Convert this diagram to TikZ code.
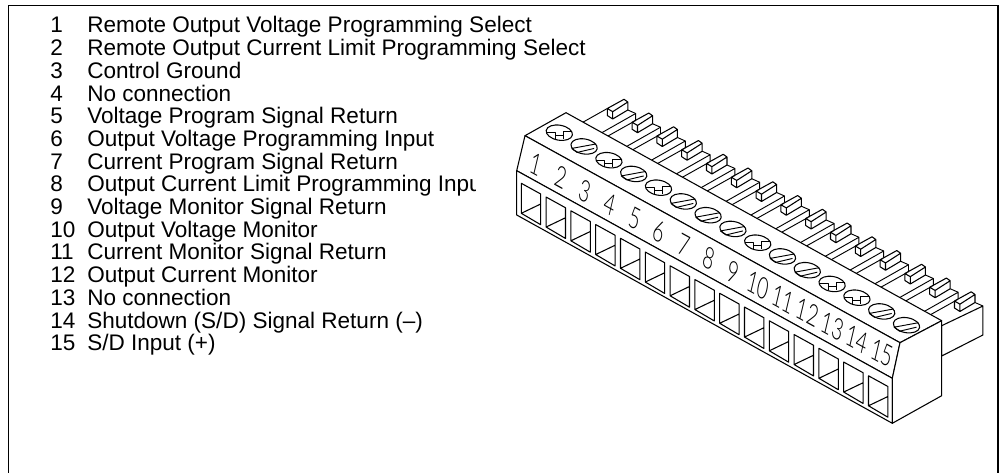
\documentclass[tikz,border=0pt]{standalone}
\usepackage{fontspec}
\setmainfont{Liberation Sans}
\newfontfamily\digitfont{Lato Light}
\usepackage{tikz}
\tikzset{
  frameline/.style={line width=1pt},
  partline/.style={line width=.8pt,line join=round,fill=white},
  thinline/.style={line width=.7pt,line join=round},
  pinno/.style={anchor=base west,inner sep=0pt,font=\fontsize{16.9pt}{20pt}\selectfont},
  pinlabel/.style={pinno},
  facedigit/.style={inner sep=0pt,transform shape,font=\digitfont\fontsize{22pt}{22pt}\selectfont}
}
\begin{document}
\begin{tikzpicture}[x=.75pt,y=-.75pt]
         \useasboundingbox (0,0) rectangle (999,473);
         \draw[frameline](8.5,473)--(8.5,5.5)--(998,5.5)--(998,473);
         % pin list
         \path
                (50,33) node [pinno] (no1) {1}           (87,33) node [pinlabel] (pin1) {Remote Output Voltage Programming Select}
                (50,55.7) node [pinno] (no2) {2}         (87,55.7) node [pinlabel] (pin2) {Remote Output Current Limit Programming Select}
                (50,78.4) node [pinno] (no3) {3}         (87,78.4) node [pinlabel] (pin3) {Control Ground}
                (50,101.1) node [pinno] (no4) {4}        (87,101.1) node [pinlabel] (pin4) {No connection}
                (50,123.8) node [pinno] (no5) {5}        (87,123.8) node [pinlabel] (pin5) {Voltage Program Signal Return}
                (50,146.5) node [pinno] (no6) {6}        (87,146.5) node [pinlabel] (pin6) {Output Voltage Programming Input}
                (50,169.2) node [pinno] (no7) {7}        (87,169.2) node [pinlabel] (pin7) {Current Program Signal Return}
                (50,191.9) node [pinno] (no8) {8}        (87,191.9) node [pinlabel] (pin8) {Output Current Limit Programming Input}
                (50,214.6) node [pinno] (no9) {9}        (87,214.6) node [pinlabel] (pin9) {Voltage Monitor Signal Return}
                (50,237.3) node [pinno] (no10) {10}      (87,237.3) node [pinlabel] (pin10) {Output Voltage Monitor}
                (50,260) node [pinno] (no11) {11}        (87,260) node [pinlabel] (pin11) {Current Monitor Signal Return}
                (50,282.7) node [pinno] (no12) {12}      (87,282.7) node [pinlabel] (pin12) {Output Current Monitor}
                (50,305.4) node [pinno] (no13) {13}      (87,305.4) node [pinlabel] (pin13) {No connection}
                (50,328.1) node [pinno] (no14) {14}      (87,328.1) node [pinlabel] (pin14) {Shutdown (S/D) Signal Return (--)}
                (50,350.8) node [pinno] (no15) {15}      (87,350.8) node [pinlabel] (pin15) {S/D Input (+)};
         \fill[white](476,172)rectangle(500,198);
         % rear block and fins
         \filldraw[partline](941.7,325.7)--(982.9,306)--(982.9,335)--(941.7,356)--cycle;
         \draw[thinline](583.3,122)--(607.3,108.5);
         \foreach \i in {1,...,14}
                \draw[thinline,shift={({24.8*(\i-1)},{13.75*(\i-1)})}]
                (602,132.6)--(635.7,113.5)--(635.7,120.5)--(608,136);
         \foreach \i in {1,...,15}
                \draw[thinline,shift={({24.8*(\i-1)},{13.75*(\i-1)})}]
                (627.8,110)--(635.7,113.5);
         \foreach \i in {1,...,15}
                \filldraw[partline,shift={({24.8*(\i-1)},{13.75*(\i-1)})}]
                (607.3,108.5)--(624,99.3)--(627.8,102)--(627.8,110)--(612.7,119)--(607.3,115.5)--cycle
                (607.3,108.5)--(612.7,111.7)--(627.8,102)
                (612.7,111.7)--(612.7,119);
         % housing
         \filldraw[partline](525,135.7)--(566,112.7)--(941.7,320.7)--(900,342.7)--cycle;
         \filldraw[partline](525,135.7)--(900,342.7)--(892.3,378.3)--(516.7,170.7)--cycle;
         \filldraw[partline](516.7,170.7)--(892.3,378.3)--(892.3,423.3)--(516.7,215)--cycle;
         \filldraw[partline](900,342.7)--(941.7,320.7)--(941.7,395.7)--(892.3,423.3)--(892.3,378.3)--cycle;
         % windows
         \foreach \i in {1,...,15}
                \draw[partline,shift={({24.8*(\i-1)},{13.75*(\i-1)})}]
                (521.3,183.3)--(540.7,194)--(540.7,224.7)--(521.3,213.3)--cycle
                (521.3,213.3)--(540.7,204);
         % screw holes
         \foreach \i in {1,...,15}
                \draw[partline,shift={({559.3+24.8*(\i-1)},{132.7+13.75*(\i-1)})}]
                (0,0) circle [x radius=13.3,y radius=7.5,rotate=-10];
         \foreach \i in {1,3,5,9,12,13}
                \draw[thinline,shift={({559.3+24.8*(\i-1)},{132.7+13.75*(\i-1)})}]
                (-12.5,0)--(-4,0)--(-4,6.5)
                (12.5,-1)--(4,-1)--(4,6.5)
                (-4,3)--(4,3);
         \foreach \i in {2,4,6,7,8,10,11,14,15}
                \draw[thinline,shift={({559.3+24.8*(\i-1)},{132.7+13.75*(\i-1)})}]
                (-12.5,2)--(12,-2.5)
                (-7,6)--(10,2)
                (-12.5,2)--(-7,6);
         % numbers on the slanted face
         \foreach \i in {1,...,15}{
                \begin{scope}[shift={({536+24.7*(\i-1)},{164+13.5*(\i-1)})},cm={.613,-.338,.23,.97,(0,0)}]
                \node[facedigit] (digit\i) at (0,0) {\i};
                \end{scope}
         }
\end{tikzpicture}
\end{document}
